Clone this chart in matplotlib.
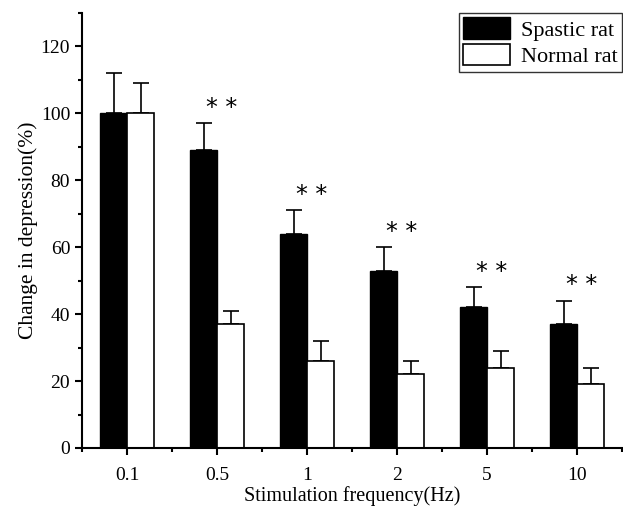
import matplotlib
matplotlib.use("Agg")
import matplotlib.pyplot as plt
import numpy as np
from matplotlib.ticker import MultipleLocator

plt.rcParams['font.family'] = ['Liberation Serif', 'DejaVu Serif']

categories = ["0.1", "0.5", "1", "2", "5", "10"]
spastic = [100, 89, 64, 53, 42, 37]
spastic_err = [12, 8, 7, 7, 6, 7]
normal = [100, 37, 26, 22, 24, 19]
normal_err = [9, 4, 6, 4, 5, 5]
significant = ["", "* *", "* *", "* *", "* *", "* *"]

fig = plt.figure(figsize=(6.23, 5.08), dpi=100)
ax = fig.add_axes([82/623, 60/508, 540/623, 435/508])

x = np.arange(len(categories))
w = 0.3
ekw = dict(ecolor='black', elinewidth=1.2, capthick=1.2, zorder=1)
ax.bar(x - w/2, spastic, w, color='black', edgecolor='black', linewidth=1.0,
       yerr=[np.zeros(len(x)), spastic_err], capsize=5.5,
       error_kw=ekw, label='Spastic rat', zorder=2)
ax.bar(x + w/2, normal, w, color='white', edgecolor='black', linewidth=1.2,
       yerr=[np.zeros(len(x)), normal_err], capsize=5.5,
       error_kw=ekw, label='Normal rat', zorder=2)

for xi, s, v, e in zip(x, significant, spastic, spastic_err):
    if s:
        ax.text(xi + 0.05, v + e + 1.0, s, ha='center', va='bottom', fontsize=17,
                family='DejaVu Sans')

ax.set_xlim(-0.5, 5.5)
ax.set_ylim(0, 130)
ax.set_xticks(x)
ax.set_xticklabels(categories)
ax.xaxis.set_minor_locator(MultipleLocator(0.5))
ax.yaxis.set_major_locator(MultipleLocator(20))
ax.yaxis.set_minor_locator(MultipleLocator(10))
ax.set_yticks([0, 20, 40, 60, 80, 100, 120])

for sp in ['top', 'right']:
    ax.spines[sp].set_visible(False)
for sp in ['left', 'bottom']:
    ax.spines[sp].set_linewidth(1.5)

ax.tick_params(axis='both', which='major', direction='out', length=5, width=1.5,
               labelsize=14, colors='black')
ax.tick_params(axis='both', which='minor', direction='out', length=3, width=1.5)
ax.tick_params(axis='x', which='major', pad=9)

ax.set_xlabel('Stimulation frequency(Hz)', fontsize=14.5, labelpad=1)
ax.set_ylabel('Change in depression(%)', fontsize=15.5, labelpad=2)

leg = ax.legend(loc='upper right', bbox_to_anchor=(1.0, 1.0), fontsize=16,
                frameon=True, fancybox=False, edgecolor='black', handlelength=2.1,
                handleheight=1.1, handletextpad=0.5, borderpad=0.2, labelspacing=0.15,
                borderaxespad=0.0)
leg.get_frame().set_linewidth(1.0)

fig.savefig('out.png', dpi=100)
